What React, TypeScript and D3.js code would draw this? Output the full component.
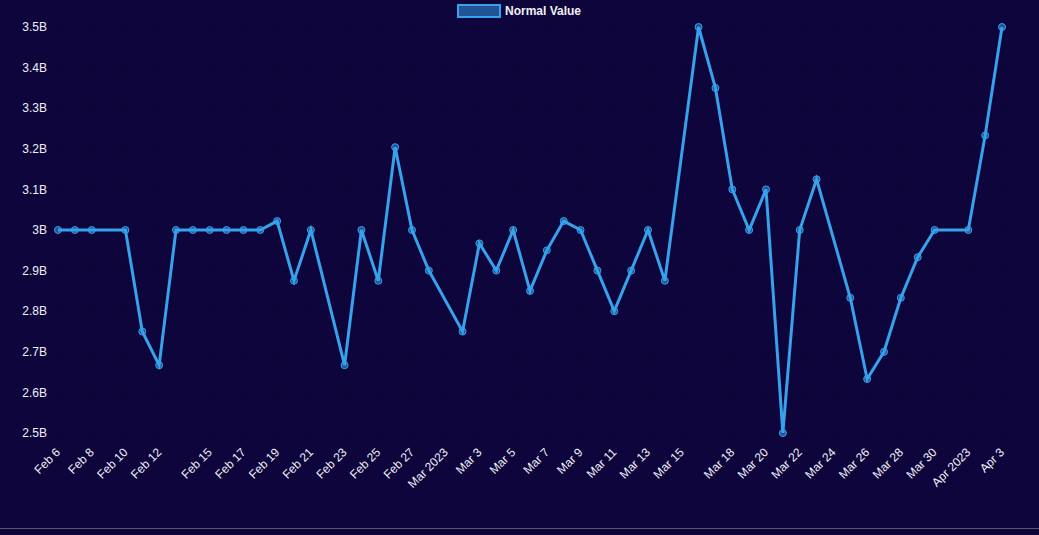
import { useEffect, useRef } from "react";
import * as d3 from "d3";

// daily readings (missing days simply aren't in the feed)
const dates = [
  "2023-02-06", "2023-02-07", "2023-02-08", "2023-02-10", "2023-02-11", "2023-02-12",
  "2023-02-13", "2023-02-14", "2023-02-15", "2023-02-16", "2023-02-17", "2023-02-18",
  "2023-02-19", "2023-02-20", "2023-02-21", "2023-02-23", "2023-02-24", "2023-02-25",
  "2023-02-26", "2023-02-27", "2023-02-28", "2023-03-02", "2023-03-03", "2023-03-04",
  "2023-03-05", "2023-03-06", "2023-03-07", "2023-03-08", "2023-03-09", "2023-03-10",
  "2023-03-11", "2023-03-12", "2023-03-13", "2023-03-14", "2023-03-16", "2023-03-17",
  "2023-03-18", "2023-03-19", "2023-03-20", "2023-03-21", "2023-03-22", "2023-03-23",
  "2023-03-25", "2023-03-26", "2023-03-27", "2023-03-28", "2023-03-29", "2023-03-30",
  "2023-04-01", "2023-04-02", "2023-04-03",
];

// billions
const normalValues = [
  3.0, 3.0, 3.0, 3.0, 2.75, 2.667,
  3.0, 3.0, 3.0, 3.0, 3.0, 3.0,
  3.022, 2.875, 3.0, 2.667, 3.0, 2.875,
  3.204, 3.0, 2.9, 2.75, 2.967, 2.9,
  3.0, 2.85, 2.95, 3.022, 3.0, 2.9,
  2.8, 2.9, 3.0, 2.875, 3.5, 3.35,
  3.1, 3.0, 3.1, 2.5, 3.0, 3.125,
  2.833, 2.633, 2.7, 2.833, 2.933, 3.0,
  3.0, 3.233, 3.5,
];

const tickDates = [
  "2023-02-06", "2023-02-08", "2023-02-10", "2023-02-12", "2023-02-15", "2023-02-17",
  "2023-02-19", "2023-02-21", "2023-02-23", "2023-02-25", "2023-02-27", "2023-03-01",
  "2023-03-03", "2023-03-05", "2023-03-07", "2023-03-09", "2023-03-11", "2023-03-13",
  "2023-03-15", "2023-03-18", "2023-03-20", "2023-03-22", "2023-03-24", "2023-03-26",
  "2023-03-28", "2023-03-30", "2023-04-01", "2023-04-03",
];

const yTicks = [2.5, 2.6, 2.7, 2.8, 2.9, 3.0, 3.1, 3.2, 3.3, 3.4, 3.5];

const seriesLabel = "Normal Value";

interface Point {
  date: Date;
  value: number;
}

const WIDTH = 1039;
const HEIGHT = 535;
const BG = "#0e053c";
const LINE = "#36a2eb";
const FONT = "'Liberation Sans', Arial, Helvetica, sans-serif";

export default function App() {
  const svgRef = useRef<SVGSVGElement>(null);

  useEffect(() => {
    if (!svgRef.current) return;
    const svg = d3.select(svgRef.current);
    svg.selectAll("*").remove();

    const margin = { top: 27, right: 37, bottom: 102, left: 58 };
    const parse = d3.utcParse("%Y-%m-%d");
    const data: Point[] = dates.map((d, i) => ({
      date: parse(d) as Date,
      value: normalValues[i] * 1e9,
    }));
    const ticks = tickDates.map((d) => parse(d) as Date);

    const x = d3
      .scaleUtc()
      .domain(d3.extent(data, (d) => d.date) as [Date, Date])
      .range([margin.left, WIDTH - margin.right]);

    const y = d3
      .scaleLinear()
      .domain([2.5e9, 3.5e9])
      .range([HEIGHT - margin.bottom, margin.top]);

    const [y0, y1] = y.range();

    svg
      .append("rect")
      .attr("width", WIDTH)
      .attr("height", HEIGHT)
      .attr("fill", BG);

    // bottom rule of the panel
    svg
      .append("line")
      .attr("x1", 0)
      .attr("x2", WIDTH)
      .attr("y1", 528.5)
      .attr("y2", 528.5)
      .attr("stroke", "#5a5a66")
      .attr("stroke-width", 1);

    // grid
    const grid = svg.append("g").attr("stroke", "rgba(0,0,0,0.13)");
    grid
      .selectAll("line.h")
      .data(yTicks)
      .enter()
      .append("line")
      .attr("class", "h")
      .attr("x1", margin.left - 8)
      .attr("x2", WIDTH - margin.right)
      .attr("y1", (d) => Math.round(y(d * 1e9)) + 0.5)
      .attr("y2", (d) => Math.round(y(d * 1e9)) + 0.5);
    grid
      .selectAll("line.v")
      .data(ticks)
      .enter()
      .append("line")
      .attr("class", "v")
      .attr("x1", (d) => Math.round(x(d)) + 0.5)
      .attr("x2", (d) => Math.round(x(d)) + 0.5)
      .attr("y1", y1)
      .attr("y2", y0 + 8);

    // y labels
    const fmtB = (v: number) => `${+(v).toFixed(1)}B`;
    svg
      .append("g")
      .selectAll("text")
      .data(yTicks)
      .enter()
      .append("text")
      .attr("x", margin.left - 11)
      .attr("y", (d) => y(d * 1e9))
      .attr("dy", "0.35em")
      .attr("text-anchor", "end")
      .attr("fill", "#f0f0f5")
      .attr("font-family", FONT)
      .attr("font-size", 12)
      .text((d) => fmtB(d));

    // x labels, rotated
    const fmtTick = (d: Date) =>
      d.getUTCDate() === 1 ? d3.utcFormat("%b %Y")(d) : d3.utcFormat("%b %-d")(d);
    svg
      .append("g")
      .selectAll("text")
      .data(ticks)
      .enter()
      .append("text")
      .attr(
        "transform",
        (d) => `translate(${x(d) + 3},${y0 + 20}) rotate(-45)`
      )
      .attr("text-anchor", "end")
      .attr("fill", "#f0f0f5")
      .attr("font-family", FONT)
      .attr("font-size", 12)
      .text((d) => fmtTick(d));

    // series
    const line = d3
      .line<Point>()
      .x((d) => x(d.date))
      .y((d) => y(d.value));

    svg
      .append("path")
      .datum(data)
      .attr("d", line)
      .attr("fill", "none")
      .attr("stroke", LINE)
      .attr("stroke-width", 3)
      .attr("stroke-linejoin", "miter");

    svg
      .append("g")
      .selectAll("circle")
      .data(data)
      .enter()
      .append("circle")
      .attr("cx", (d) => x(d.date))
      .attr("cy", (d) => y(d.value))
      .attr("r", 3.5)
      .attr("fill", "rgba(54,162,235,0.5)")
      .attr("stroke", LINE)
      .attr("stroke-width", 1);

    // legend
    const legend = svg.append("g");
    legend
      .append("rect")
      .attr("x", 458)
      .attr("y", 5)
      .attr("width", 42)
      .attr("height", 12)
      .attr("fill", "rgba(54,162,235,0.5)")
      .attr("stroke", LINE)
      .attr("stroke-width", 2);
    legend
      .append("text")
      .attr("x", 505)
      .attr("y", 11)
      .attr("dy", "0.35em")
      .attr("fill", "#f0f0f5")
      .attr("font-family", FONT)
      .attr("font-size", 12)
      .attr("font-weight", "bold")
      .text(seriesLabel);
  }, []);

  return (
    <div style={{ position: "fixed", left: 0, top: 0, width: WIDTH, height: HEIGHT, background: BG }}>
      <svg ref={svgRef} width={WIDTH} height={HEIGHT} style={{ display: "block" }} />
    </div>
  );
}
